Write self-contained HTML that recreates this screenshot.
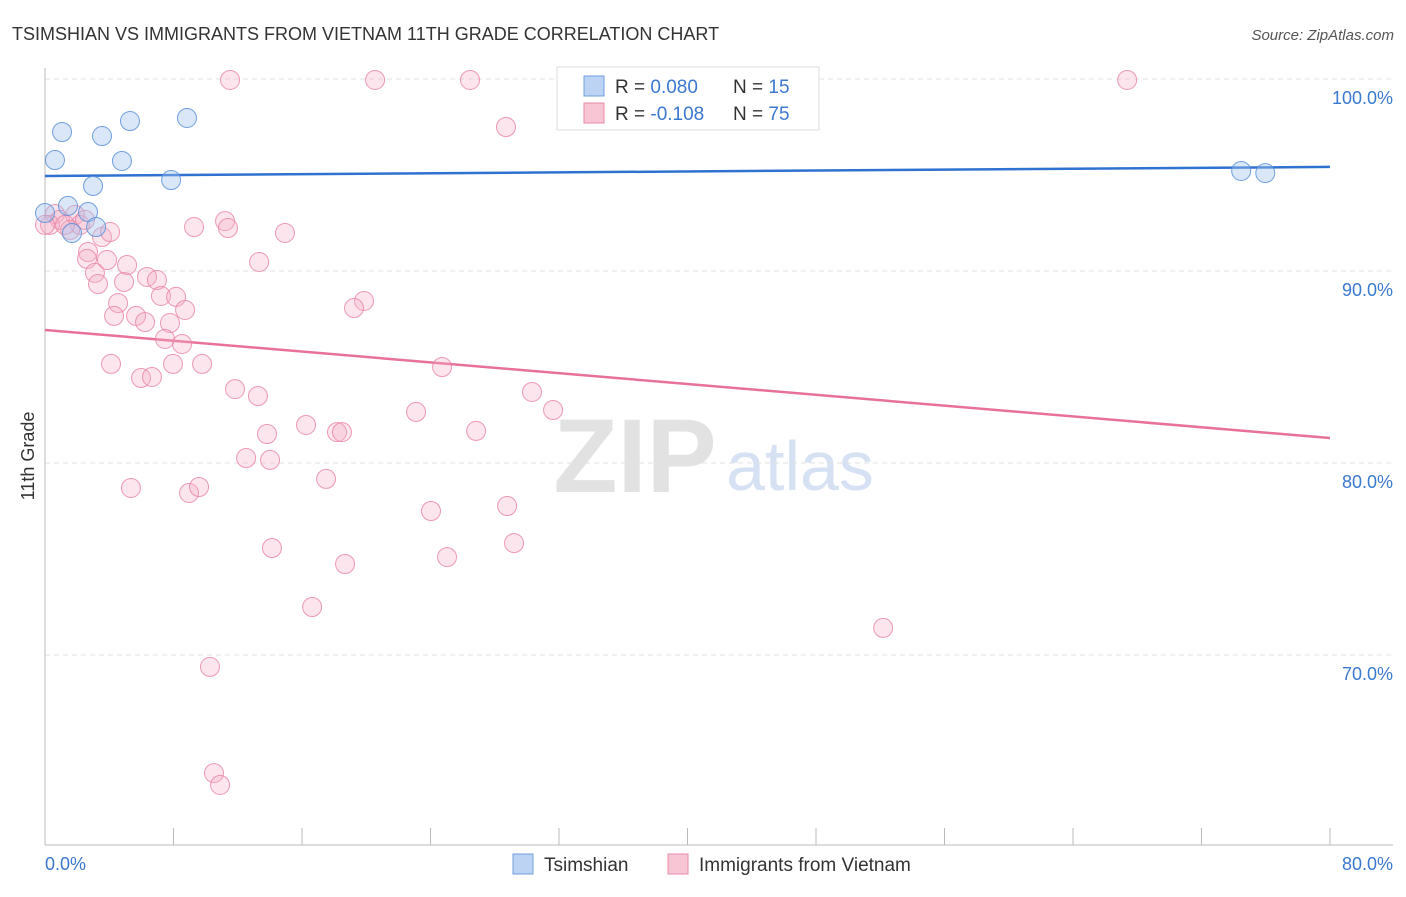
<!DOCTYPE html>
<html><head><meta charset="utf-8"><style>
body{margin:0;background:#fff;font-family:"Liberation Sans",sans-serif;}
svg text{font-family:"Liberation Sans",sans-serif;}
</style></head><body>
<svg id="chart" width="1406" height="892" xmlns="http://www.w3.org/2000/svg">
<text x="12" y="40" font-size="18" fill="#333">TSIMSHIAN VS IMMIGRANTS FROM VIETNAM 11TH GRADE CORRELATION CHART</text>
<text x="1394" y="40" font-size="15" fill="#555" text-anchor="end" font-style="italic">Source: ZipAtlas.com</text>
<text x="635" y="492" font-size="105" fill="#e2e2e2" text-anchor="middle" font-family="Liberation Serif" font-weight="bold">ZIP</text>
<text x="800" y="490" font-size="70" fill="#d6e2f3" text-anchor="middle">atlas</text>
<g id="grid"></g>
<line x1="45" y1="68" x2="45" y2="845" stroke="#bbb"/>
<line x1="45" y1="845" x2="1393" y2="845" stroke="#bbb"/>
<text x="34" y="456" font-size="18" fill="#333" text-anchor="middle" transform="rotate(-90 34 456)">11th Grade</text>
<text x="45" y="870" font-size="18" fill="#3b78d0">0.0%</text>
<text x="1393" y="870" font-size="18" fill="#3b78d0" text-anchor="end">80.0%</text>
<g id="lines"></g>
<g id="points"></g>
<g>
<rect x="557" y="67" width="262" height="63" fill="#fff" stroke="#ddd"/>
<rect x="584" y="76" width="20" height="20" fill="#bcd3f3" stroke="#6fa0dc"/>
<rect x="584" y="103" width="20" height="20" fill="#f8c5d4" stroke="#e88aa8"/>
<text x="615" y="93" font-size="19" fill="#333">R = <tspan fill="#3b78d0">0.080</tspan></text>
<text x="733" y="93" font-size="19" fill="#333">N = <tspan fill="#3b78d0">15</tspan></text>
<text x="615" y="120" font-size="19" fill="#333">R = <tspan fill="#3b78d0">-0.108</tspan></text>
<text x="733" y="120" font-size="19" fill="#333">N = <tspan fill="#3b78d0">75</tspan></text>
</g>
<g>
<rect x="513" y="854" width="20" height="20" fill="#bcd3f3" stroke="#6fa0dc"/>
<text x="544" y="871" font-size="19" fill="#333">Tsimshian</text>
<rect x="668" y="854" width="20" height="20" fill="#f8c5d4" stroke="#e88aa8"/>
<text x="699" y="871" font-size="19" fill="#333">Immigrants from Vietnam</text>
</g>
</svg>
<script>
const yTicks=[100,90,80,70];
const yTickLabels=["100.0%","90.0%","80.0%","70.0%"];
const xTicks=[0,8,16,24,32,40,48,56,64,72,80];
const blueX=[0.62,1.06,3.55,5.29,8.84,4.79,7.85,2.99,1.43,2.68,1.68,3.18,0,74.47,75.97];
const blueY=[95.78,97.24,97.03,97.81,97.97,95.73,94.74,94.43,93.39,93.07,91.98,92.29,93.02,95.21,95.10];
const pinkX=[11.52,20.55,26.46,67.37,28.70,11.21,11.39,9.28,14.94,3.55,2.68,3.86,2.62,5.11,3.11,6.35,6.97,13.33,3.30,4.92,4.55,7.22,8.16,8.72,4.30,5.67,6.23,7.78,7.47,8.53,19.86,19.24,4.11,7.97,9.78,5.98,6.66,24.72,11.83,13.26,30.32,31.63,23.10,16.25,13.82,18.18,18.49,26.84,12.52,14.01,17.50,5.35,8.97,9.59,24.03,28.77,14.13,29.20,25.03,18.68,16.63,52.18,10.27,10.52,10.90,0.62,0.93,0.31,1.87,2.18,1.56,1.25,4.05,0,2.49];
const pinkY=[99.95,99.95,99.95,99.95,97.50,92.60,92.24,92.29,91.98,91.77,90.99,90.57,90.63,90.31,89.90,89.69,89.53,90.47,89.32,89.43,88.33,88.70,88.65,87.97,87.66,87.66,87.34,87.29,86.46,86.20,88.44,88.07,85.16,85.16,85.16,84.43,84.48,85.00,83.85,83.49,83.70,82.76,82.66,81.98,81.51,81.61,81.61,81.67,80.26,80.16,79.17,78.70,78.44,78.75,77.50,77.76,75.57,75.83,75.10,74.74,72.50,71.41,69.38,63.85,63.23,92.97,92.66,92.40,92.92,92.40,92.14,92.40,92.03,92.40,92.66];
const blueTrend=[94.95,95.42];
const pinkTrend=[86.93,81.30];
const sx=v=>45+v*(1285/80);
const sy=v=>79+(100-v)*19.2;
const NS="http://www.w3.org/2000/svg";
const grid=document.getElementById('grid');
yTicks.forEach((t,i)=>{
  const l=document.createElementNS(NS,'line');
  l.setAttribute('x1',45);l.setAttribute('x2',1393);l.setAttribute('y1',sy(t));l.setAttribute('y2',sy(t));
  l.setAttribute('stroke','#e2e2e2');l.setAttribute('stroke-dasharray','5,4');
  
  
  grid.appendChild(l);
  const tx=document.createElementNS(NS,'text');
  tx.setAttribute('x',1393);tx.setAttribute('y',sy(t)+25);tx.setAttribute('text-anchor','end');
  tx.setAttribute('font-size','18');tx.setAttribute('fill','#3b78d0');tx.textContent=yTickLabels[i];
  
  
  grid.appendChild(tx);
});
xTicks.forEach(t=>{
  const l=document.createElementNS(NS,'line');
  l.setAttribute('x1',sx(t));l.setAttribute('x2',sx(t));l.setAttribute('y1',828);l.setAttribute('y2',845);
  l.setAttribute('stroke','#bbb');
  
  
  grid.appendChild(l);
});
const pts=document.getElementById('points');
function dots(xs,ys,fill,stroke,name){
  xs.forEach((x,i)=>{
    const c=document.createElementNS(NS,'circle');
    c.setAttribute('cx',sx(x));c.setAttribute('cy',sy(ys[i]));c.setAttribute('r',9.5);
    c.setAttribute('fill',fill);c.setAttribute('stroke',stroke);c.setAttribute('stroke-width','1');
    
    
    pts.appendChild(c);
  });
}
dots(pinkX,pinkY,'rgba(245,175,198,0.32)','rgba(232,130,165,0.8)','vietnam-point');
dots(blueX,blueY,'rgba(160,195,240,0.4)','rgba(90,145,215,0.85)','tsimshian-point');
const lines=document.getElementById('lines');
function trend(v,color,name){
  const l=document.createElementNS(NS,'line');
  l.setAttribute('x1',sx(0));l.setAttribute('x2',sx(80));l.setAttribute('y1',sy(v[0]));l.setAttribute('y2',sy(v[1]));
  l.setAttribute('stroke',color);l.setAttribute('stroke-width','2.5');
  
  
  lines.appendChild(l);
}
trend(blueTrend,'#2f72d0','tsimshian-trend-line');
trend(pinkTrend,'#e8719a','vietnam-trend-line');
</script>
</body></html>
